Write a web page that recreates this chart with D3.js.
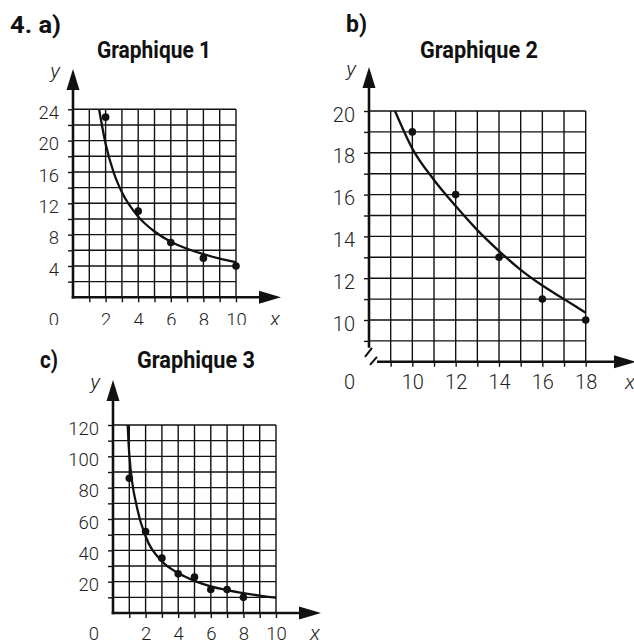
<!DOCTYPE html>
<html>
<head>
<meta charset="utf-8">
<script src="https://cdn.jsdelivr.net/npm/d3@7"></script>
<style>
  html, body { margin: 0; padding: 0; background: #fff; }
  svg { display: block; }
  .tick text, .zero { font-family: Roboto, "Liberation Sans", sans-serif; font-weight: 300; fill: #1e1e1e; }
  .head { font-family: Roboto, "Liberation Sans", sans-serif; font-weight: bold; fill: #111; }
  .var { font-family: Roboto, "Liberation Sans", sans-serif; font-style: italic; font-weight: 300; fill: #1e1e1e; }
</style>
</head>
<body>
<div id="chart"></div>
<script>
// --- Graphique 1 ---
const xLabelsA = [2, 4, 6, 8, 10];
const yLabelsA = [4, 8, 12, 16, 20, 24];
const ptsXA = [2, 4, 6, 8, 10];
const ptsYA = [23, 11, 7, 5, 4];
const fitXA = [1.6, 2, 2.5, 3, 4, 5, 6, 7, 8, 9, 10];
const fitYA = [24, 19.6, 15.9, 13.4, 10.3, 8.4, 7.1, 6.2, 5.5, 4.95, 4.5];

// --- Graphique 2 ---
const xLabelsB = [10, 12, 14, 16, 18];
const yLabelsB = [10, 12, 14, 16, 18, 20];
const ptsXB = [10, 12, 14, 16, 18];
const ptsYB = [19, 16, 13, 11, 10];
const fitXB = [9.2, 10, 11, 12, 13, 14, 15, 16, 17, 18];
const fitYB = [20, 18.2, 16.7, 15.45, 14.3, 13.3, 12.4, 11.65, 11.0, 10.35];

// --- Graphique 3 ---
const xLabelsC = [2, 4, 6, 8, 10];
const yLabelsC = [20, 40, 60, 80, 100, 120];
const ptsXC = [1, 2, 3, 4, 5, 6, 7, 8];
const ptsYC = [86, 52, 35, 25, 23, 15, 15, 10];
const fitXC = [0.9, 1, 1.5, 2, 3, 4, 5, 6, 7, 8, 9, 10];
const fitYC = [120, 101, 66, 49, 33, 25.5, 20.5, 17, 14.6, 12.7, 11.1, 9.8];

const W = 634, H = 642;
const svg = d3.select("#chart").append("svg").attr("width", W).attr("height", H);

const ink = "#111";

function arrowUp(g, x, tip) {
  g.append("path").attr("d", `M${x},${tip} L${x - 6.5},${tip + 21} L${x + 6.5},${tip + 21} Z`).attr("fill", ink);
}
function arrowRight(g, tip, y) {
  g.append("path").attr("d", `M${tip},${y} L${tip - 22},${y - 6.5} L${tip - 22},${y + 6.5} Z`).attr("fill", ink);
}

function panel(o) {
  const g = svg.append("g");
  if (o.clipBottom) {
    svg.append("clipPath").attr("id", o.id + "-clip")
      .append("rect").attr("x", 0).attr("y", 0).attr("width", W).attr("height", o.clipBottom);
    g.attr("clip-path", `url(#${o.id}-clip)`);
  }
  const x = d3.scaleLinear().domain(o.xDomain).range(o.xRange);
  const y = d3.scaleLinear().domain(o.yDomain).range(o.yRange);
  const [x0, x1] = o.xDomain, [y0, y1] = o.yDomain;
  const gridX = d3.range(x0 + o.xStep, x1 + 1e-6, o.xStep);
  const gridY = d3.range(y0 + o.yStep, y1 + 1e-6, o.yStep);

  // grille
  g.append("g").selectAll("line").data(gridX).join("line")
    .attr("x1", d => x(d)).attr("x2", d => x(d))
    .attr("y1", y(y0)).attr("y2", y(y1))
    .attr("stroke", ink).attr("stroke-width", 1.4);
  g.append("g").selectAll("line").data(gridY).join("line")
    .attr("x1", x(x0)).attr("x2", x(x1))
    .attr("y1", d => y(d)).attr("y2", d => y(d))
    .attr("stroke", ink).attr("stroke-width", 1.4);

  // axes D3 (graduations + étiquettes)
  const ax = g.append("g").attr("transform", `translate(0,${y(y0)})`)
    .call(d3.axisBottom(x).tickValues(gridX).tickSize(5)
      .tickFormat(d => o.xLabels.includes(d) ? d : ""));
  ax.select(".domain").remove();
  ax.selectAll("line").attr("stroke", ink).attr("stroke-width", 1.4);
  ax.selectAll("text").attr("y", o.xLabelDy).attr("dy", 0)
    .style("font-size", o.fontSize + "px");

  const ay = g.append("g").attr("transform", `translate(${x(x0)},0)`)
    .call(d3.axisLeft(y).tickValues(gridY).tickSize(5).tickPadding(9)
      .tickFormat(d => o.yLabels.includes(d) ? d : ""));
  ay.select(".domain").remove();
  ay.selectAll("line").attr("stroke", ink).attr("stroke-width", 1.4);
  ay.selectAll("text").attr("dy", "0.5em").style("font-size", o.fontSize + "px");

  // axes principaux
  const ox = x(x0), oy = y(y0);
  const yStart = o.broken ? oy - 14 : oy + 1.3;
  const xStart = o.broken ? ox + 8 : ox - 1.3;
  g.append("line").attr("x1", ox).attr("x2", ox).attr("y1", yStart).attr("y2", o.yTip + 10)
    .attr("stroke", ink).attr("stroke-width", 2.6);
  g.append("line").attr("x1", xStart).attr("x2", o.xTip - 10).attr("y1", oy).attr("y2", oy)
    .attr("stroke", ink).attr("stroke-width", 2.6);
  arrowUp(g, ox, o.yTip);
  arrowRight(g, o.xTip, oy);
  if (o.broken) {
    g.append("path").attr("d", `M${ox - 4},${oy - 5} L${ox + 3},${oy - 14}`)
      .attr("stroke", ink).attr("stroke-width", 2).attr("fill", "none");
    g.append("path").attr("d", `M${ox + 1},${oy + 3} L${ox + 8},${oy - 5}`)
      .attr("stroke", ink).attr("stroke-width", 2).attr("fill", "none");
  }

  // courbe de tendance
  const fit = o.fitX.map((d, i) => [d, o.fitY[i]]);
  g.append("path").datum(fit)
    .attr("d", d3.line().x(d => x(d[0])).y(d => y(d[1])).curve(d3.curveMonotoneX))
    .attr("fill", "none").attr("stroke", ink).attr("stroke-width", 2.3);

  // points
  const pts = o.ptsX.map((d, i) => [d, o.ptsY[i]]);
  g.append("g").selectAll("circle").data(pts).join("circle")
    .attr("cx", d => x(d[0])).attr("cy", d => y(d[1])).attr("r", 3.8).attr("fill", ink);

  // textes
  g.append("text").attr("class", "zero").attr("x", ox - 14).attr("y", oy + o.xLabelDy)
    .attr("text-anchor", "end").style("font-size", o.fontSize + "px").text("0");
  g.append("text").attr("class", "var").attr("x", o.xTip - 6).attr("y", oy + o.xLabelDy)
    .attr("text-anchor", "middle").style("font-size", "21px").text("x");
  g.append("text").attr("class", "var").attr("x", ox - 18).attr("y", o.yTip + 9)
    .attr("text-anchor", "middle").style("font-size", "21px").text("y");

  svg.append("text").attr("class", "head").attr("x", o.labelX).attr("y", o.labelY)
    .attr("textLength", o.labelW).attr("lengthAdjust", "spacingAndGlyphs")
    .style("font-size", "24px").text(o.label);
  svg.append("text").attr("class", "head").attr("x", o.titleX).attr("y", o.titleY)
    .attr("textLength", o.titleW).attr("lengthAdjust", "spacingAndGlyphs")
    .style("font-size", "23px").text(o.title);
}

panel({
  id: "a", label: "4.  a)", labelX: 10, labelY: 33, labelW: 51,
  title: "Graphique 1", titleX: 97, titleY: 58, titleW: 114,
  xDomain: [0, 10], xRange: [73, 236], yDomain: [0, 24], yRange: [297.3, 109.3],
  xStep: 1, yStep: 2, xLabels: xLabelsA, yLabels: yLabelsA,
  ptsX: ptsXA, ptsY: ptsYA, fitX: fitXA, fitY: fitYA,
  yTip: 69, xTip: 281, xLabelDy: 29, fontSize: 18.5, clipBottom: 325
});

panel({
  id: "b", label: "b)", labelX: 346, labelY: 32, labelW: 21,
  title: "Graphique 2", titleX: 420, titleY: 58, titleW: 118,
  xDomain: [8, 18], xRange: [369, 585.7], yDomain: [8, 20], yRange: [361.8, 111],
  xStep: 1, yStep: 1, xLabels: xLabelsB, yLabels: yLabelsB,
  ptsX: ptsXB, ptsY: ptsYB, fitX: fitXB, fitY: fitYB,
  yTip: 67, xTip: 636, xLabelDy: 27, fontSize: 20, broken: true
});

panel({
  id: "c", label: "c)", labelX: 40, labelY: 368, labelW: 18,
  title: "Graphique 3", titleX: 137, titleY: 368, titleW: 118,
  xDomain: [0, 10], xRange: [113, 276], yDomain: [0, 120], yRange: [613, 425],
  xStep: 1, yStep: 10, xLabels: xLabelsC, yLabels: yLabelsC,
  ptsX: ptsXC, ptsY: ptsYC, fitX: fitXC, fitY: fitYC,
  yTip: 380, xTip: 321, xLabelDy: 27, fontSize: 18.5
});
</script>
</body>
</html>
